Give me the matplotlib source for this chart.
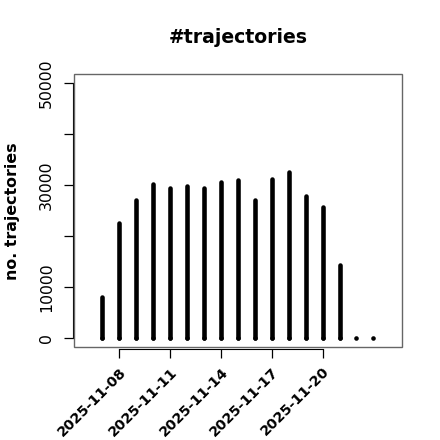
import numpy as np
import matplotlib
matplotlib.use("Agg")
import matplotlib.pyplot as plt
import matplotlib.dates as mdates
import matplotlib.transforms as mtransforms
from matplotlib.patches import Rectangle

# daily counts
dates = np.arange(np.datetime64("2025-11-07"), np.datetime64("2025-11-24"))
counts = [8100, 22600, 27200, 30200, 29500, 29900, 29500, 30600, 31100,
          27200, 31200, 32600, 27800, 25700, 14400, 0, 0]

yticks = [0, 10000, 20000, 30000, 40000, 50000]
ytick_labels = ["0", "10000", "", "30000", "", "50000"]
xtick_dates = np.array(["2025-11-08", "2025-11-11", "2025-11-14",
                        "2025-11-17", "2025-11-20"], dtype="datetime64[D]")

W, H = 440, 440
fig = plt.figure(figsize=(W / 100, H / 100), dpi=100)
# plot box in pixels: left 74, right 402, top 74, bottom 347
ax = fig.add_axes([74 / W, 1 - 347.3 / H, (401.7 - 74) / W, (347.3 - 74) / H])

x = mdates.date2num(dates.astype("datetime64[D]").astype(object))
ax.vlines(x, 0, counts, colors="black", linewidth=3.3, capstyle="round")
ax.plot(x, np.zeros(len(x)), "o", color="black", markersize=3.3,
        markeredgewidth=0)

ax.set_xlim(x[0] - 1.67, x[-1] + 1.67)
ax.set_ylim(-1780, 51820)

# gray box round the plot region, black axis lines only over the tick range
ax.add_patch(Rectangle((0, 0), 1, 1, transform=ax.transAxes, fill=False,
                       edgecolor="#666666", linewidth=1.0, clip_on=False, zorder=5))
for s in ["top", "right"]:
    ax.spines[s].set_visible(False)
xt = mdates.date2num(xtick_dates.astype(object))
ax.spines["bottom"].set_bounds(xt[0], xt[-1])
ax.spines["left"].set_bounds(0, 50000)
ax.spines["left"].set_position(("outward", 1))
ax.spines["bottom"].set_position(("outward", 1))

ax.set_yticks(yticks)
ax.set_yticklabels(ytick_labels, rotation=90, va="center", fontsize=11.3)
ax.set_xticks(xt)
ax.set_xticklabels([str(d) for d in xtick_dates], rotation=45, ha="right",
                   va="top", rotation_mode="anchor", fontsize=10.3,
                   fontweight="bold")
shift = mtransforms.ScaledTranslation(-3 / 72, 0, fig.dpi_scale_trans)
for lab in ax.get_xticklabels():
    lab.set_transform(lab.get_transform() + shift)
ax.tick_params(axis="both", length=6.5, width=0.9, color="black")
ax.tick_params(axis="y", pad=7)
ax.tick_params(axis="x", pad=5)

fig.text((74 + 401.7) / 2 / W, 1 - 43.3 / H, "#trajectories", ha="center",
         va="baseline", fontsize=13.6, fontweight="bold")
fig.text(13 / W, 1 - 211.5 / H, "no. trajectories", rotation=90, ha="center",
         va="center", fontsize=11.4, fontweight="bold")

fig.savefig("out.png", dpi=100)
